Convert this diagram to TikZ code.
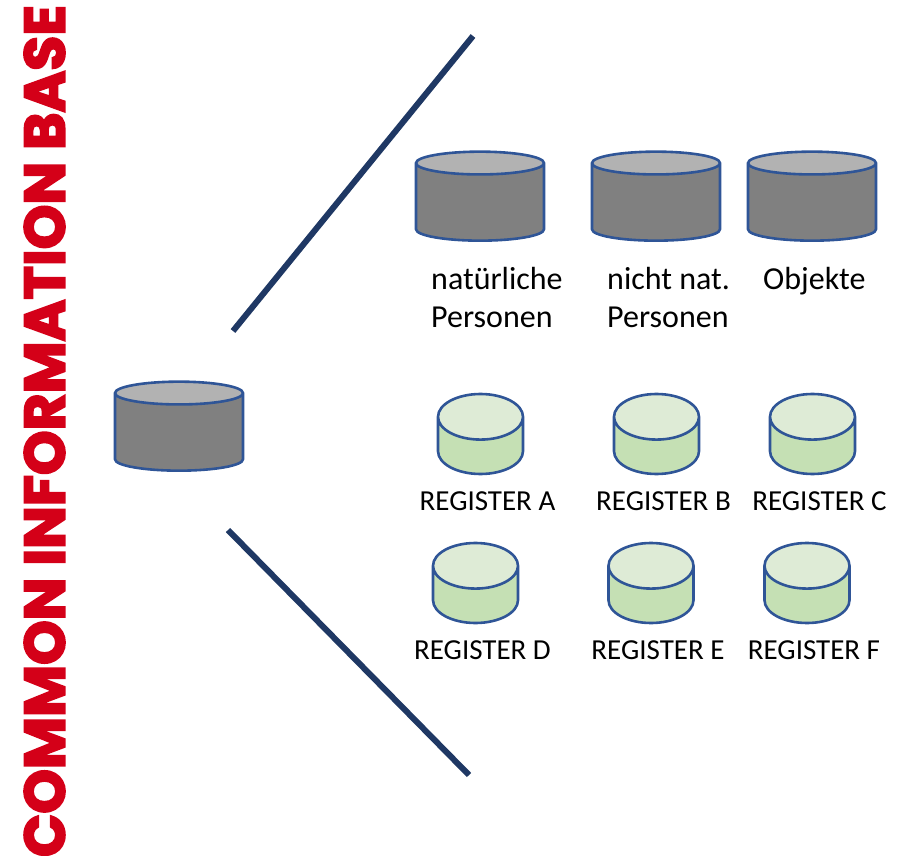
\documentclass[tikz,border=0pt]{standalone}
\usepackage{fontspec}
\setmainfont{Carlito}
\newfontfamily\titlefont[BoldFeatures={FakeBold=3.5}]{Poppins}
\usetikzlibrary{positioning,shapes.geometric}
\definecolor{dbline}{HTML}{2F5597}
\definecolor{navyline}{HTML}{1F3864}
\definecolor{titlered}{HTML}{D40018}
\begin{document}
\begin{tikzpicture}[x=1pt, y=-1pt,
	dbbase/.style = {cylinder, shape border rotate=90, draw=dbline, line width=2.6pt, cylinder uses custom fill, inner sep=1pt},
	dbgrey/.style = {dbbase, cylinder body fill=black!50, cylinder end fill=black!30, minimum width=128pt, minimum height=89pt, shape aspect=3.6},
	dbgreen/.style = {dbbase, cylinder body fill={rgb,255:red,197;green,224;blue,180}, cylinder end fill={rgb,255:red,222;green,235;blue,214}, minimum width=85pt, minimum height=80pt, shape aspect=7.2},
	lbl/.style = {font=\fontsize{32}{38}\selectfont, align=left, inner sep=0pt},
	reglbl/.style = {font=\fontsize{29}{38}\selectfont, inner sep=0pt, xshift=7pt, yshift=-3pt},
	spoke/.style = {navyline, line width=6pt}]
	\useasboundingbox (0,0) rectangle (907,856);
	\clip (0,0) rectangle (907,856);
	% title
	\node[rotate=90, text=titlered, inner sep=0pt, anchor=center] (title) at (44.5,431)
		{\scalebox{1.32}[1.32]{\titlefont\bfseries\fontsize{43}{43}\selectfont COMMON INFORMATION BASE}};
	% grey databases
	\node[dbgrey] (main) at (179,433.5) {\phantom{x}};
	\node[dbgrey] (natp) at (480,203.5) {\phantom{x}};
	\node[dbgrey] (nnatp) at (656,203.5) {\phantom{x}};
	\node[dbgrey] (obj) at (812,203.5) {\phantom{x}};
	\node[lbl, anchor=north west] (natl) at (431,267) {natürliche\\Personen};
	\node[lbl, anchor=north west] (nnatl) at (607,267) {nicht nat.\\Personen};
	\node[lbl, anchor=north west] (objl) at (763,267) {Objekte};
	% registers
	\node[dbgreen] (rega) at (480.5,448.5) {\phantom{x}};
	\node[dbgreen] (regb) at (656.5,448.5) {\phantom{x}};
	\node[dbgreen] (regc) at (812.5,448.5) {\phantom{x}};
	\node[dbgreen] (regd) at (475.5,597.5) {\phantom{x}};
	\node[dbgreen] (rege) at (651,597.5) {\phantom{x}};
	\node[dbgreen] (regf) at (807,597.5) {\phantom{x}};
	\node[reglbl, below=13pt of rega] (regal) {REGISTER A};
	\node[reglbl, below=13pt of regb] (regbl) {REGISTER B};
	\node[reglbl, below=13pt of regc] (regcl) {REGISTER C};
	\node[reglbl, below=13pt of regd] (regdl) {REGISTER D};
	\node[reglbl, below=13pt of rege] (regel) {REGISTER E};
	\node[reglbl, below=13pt of regf] (regfl) {REGISTER F};
	% spokes
	\coordinate (s1) at (233,331);
	\coordinate (s2) at (473,36);
	\coordinate (s3) at (228,530);
	\coordinate (s4) at (469,775);
	\draw[spoke] (s1) -- (s2);
	\draw[spoke] (s3) -- (s4);
\end{tikzpicture}
\end{document}
